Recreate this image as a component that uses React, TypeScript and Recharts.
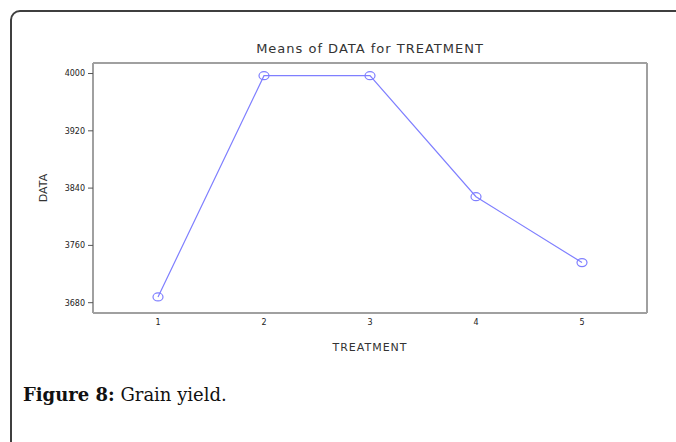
import { LineChart, Line, XAxis, YAxis, Label } from 'recharts';

// Means of DATA for TREATMENT (grain yield)
const treatments = ['1', '2', '3', '4', '5'];
const means = [3688, 3997, 3997, 3828, 3736];
const yTicks = [3680, 3760, 3840, 3920, 4000];

const data = treatments.map((t, i) => ({ treatment: t, value: means[i] }));

const lineColor = '#7f7fff';
const frameColor = '#a0a0a0';
const tickStyle = { fontSize: 8, fill: '#222', fontFamily: 'DejaVu Sans' };

const EllipseDot = (props: any) => {
    const { cx, cy, index } = props;
    if (cx == null || cy == null) return null;
    return <ellipse key={index} cx={cx} cy={cy} rx={5} ry={4} fill="none" stroke={lineColor} strokeWidth={1.2} />;
};

export default function App() {
    return (
        <div style={{ position: 'absolute', left: 0, top: 0, width: 676, height: 442, overflow: 'hidden', background: '#fff' }}>
            {/* card border */}
            <div
                style={{
                    position: 'absolute',
                    left: 10,
                    top: 10,
                    width: 760,
                    height: 560,
                    border: '2px solid #3f3f3f',
                    borderTopLeftRadius: 10,
                }}
            />
            <div
                style={{
                    position: 'absolute',
                    left: 0,
                    width: 740,
                    top: 41,
                    textAlign: 'center',
                    fontFamily: 'DejaVu Sans',
                    fontSize: 13,
                    letterSpacing: 1,
                    color: '#333',
                    lineHeight: '16px',
                }}
            >
                Means of DATA for TREATMENT
            </div>
            <div style={{ position: 'absolute', left: 0, top: 0 }}>
                <LineChart width={676} height={442} data={data} margin={{ top: 62, right: 28, bottom: 91, left: 33 }}>
                    <XAxis
                        dataKey="treatment"
                        padding={{ left: 65, right: 65 }}
                        axisLine={{ stroke: frameColor, strokeWidth: 2 }}
                        tickLine={false}
                        tickSize={4}
                        tickMargin={2}
                        height={38}
                        tick={tickStyle}
                    >
                        <Label
                            value="TREATMENT"
                            position="insideBottom"
                            offset={0}
                            style={{ fontSize: 11, fill: '#333', fontFamily: 'DejaVu Sans', letterSpacing: 1 }}
                        />
                    </XAxis>
                    <XAxis
                        xAxisId="top"
                        dataKey="treatment"
                        orientation="top"
                        height={1}
                        tick={false}
                        tickLine={false}
                        axisLine={{ stroke: frameColor, strokeWidth: 2 }}
                    />
                    <YAxis
                        domain={[3665.6, 4014.7]}
                        ticks={yTicks}
                        allowDataOverflow
                        width={60}
                        axisLine={{ stroke: frameColor, strokeWidth: 2 }}
                        tickLine={{ stroke: '#555' }}
                        tickSize={5}
                        tickMargin={3}
                        tick={tickStyle}
                    >
                        <Label
                            value="DATA"
                            angle={-90}
                            position="insideLeft"
                            offset={10}
                            style={{ fontSize: 11, fill: '#333', fontFamily: 'DejaVu Sans', textAnchor: 'middle' }}
                        />
                    </YAxis>
                    <YAxis
                        yAxisId="right"
                        orientation="right"
                        domain={[3665.6, 4014.7]}
                        width={1}
                        tick={false}
                        tickLine={false}
                        axisLine={{ stroke: frameColor, strokeWidth: 2 }}
                    />
                    <Line
                        type="linear"
                        dataKey="value"
                        stroke={lineColor}
                        strokeWidth={1.2}
                        dot={<EllipseDot />}
                        activeDot={false}
                        isAnimationActive={false}
                    />
                </LineChart>
            </div>
            <div
                style={{
                    position: 'absolute',
                    left: 23,
                    top: 384,
                    fontFamily: 'DejaVu Serif',
                    fontSize: 18,
                    color: '#111',
                    lineHeight: '22px',
                    whiteSpace: 'nowrap',
                }}
            >
                <b>Figure 8:</b> Grain yield.
            </div>
        </div>
    );
}
